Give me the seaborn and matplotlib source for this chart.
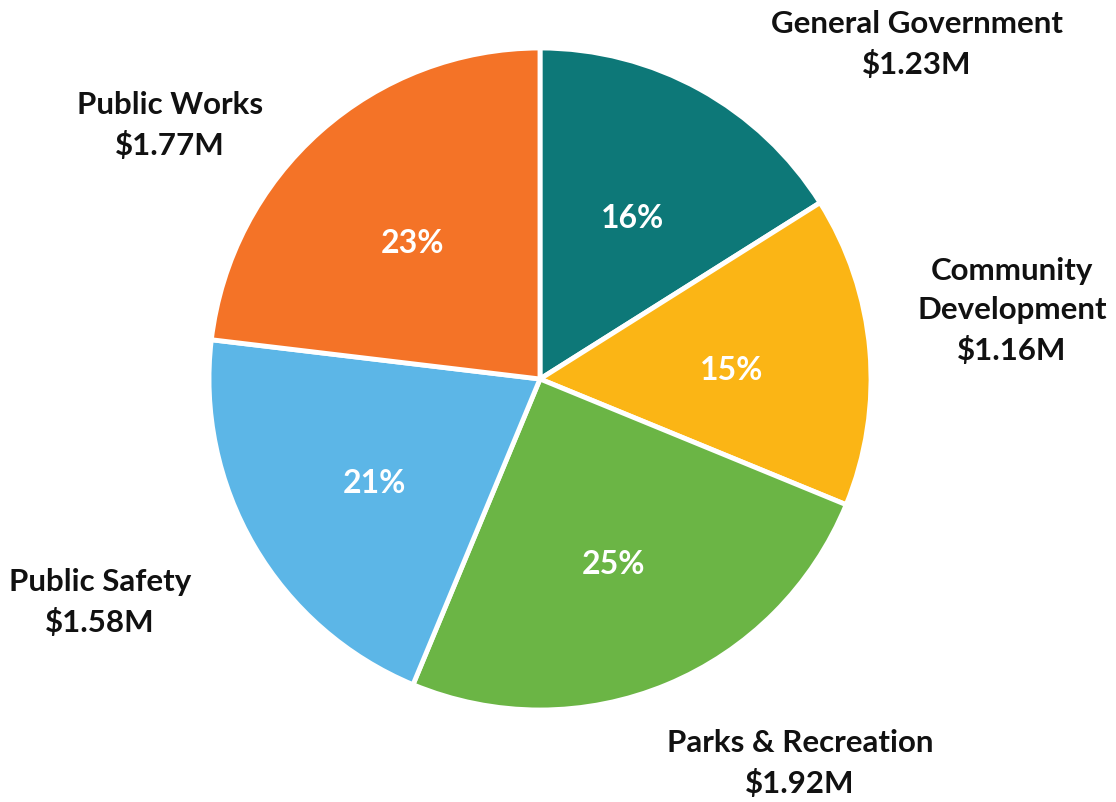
import matplotlib
matplotlib.use("Agg")
import matplotlib.pyplot as plt
import seaborn as sns
import numpy as np

categories = ["General Government", "Community\nDevelopment", "Parks & Recreation", "Public Safety", "Public Works"]
values = [1.23, 1.16, 1.92, 1.58, 1.77]
value_labels = ["$1.23M", "$1.16M", "$1.92M", "$1.58M", "$1.77M"]
colors = ["#0D7878", "#FBB515", "#6BB545", "#5CB6E7", "#F47327"]

sns.set_theme(style="white")
plt.rcParams['font.family'] = ['Lato', 'DejaVu Sans']

fig = plt.figure(figsize=(11.16, 8.03), dpi=100)
ax = fig.add_axes([0, 0, 1, 1])

total = sum(values)
wedges, texts = ax.pie(values, colors=colors, startangle=90, counterclock=False,
                       radius=1.0, center=(0, 0),
                       wedgeprops=dict(edgecolor="white", linewidth=3.5))

# percentage labels
ang0 = 90.0
for v, w in zip(values, wedges):
    span = v / total * 360
    mid = np.deg2rad(ang0 - span / 2)
    ang0 -= span
    ax.annotate(f"{v/total*100:.0f}%", xy=(0.58 * np.cos(mid), 0.58 * np.sin(mid)),
                xytext=(0, -5), textcoords="offset points",
                ha="center", va="center", color="white", fontsize=23, fontweight="bold")

# outside category labels
label_pos = [(1.139, 1.015), (1.426, 0.208), (0.785, -1.160), (-1.329, -0.671), (-1.118, 0.770)]
for cat, vl, (x, y) in zip(categories, value_labels, label_pos):
    ax.text(x, y, f"{cat}\n{vl}", ha="center", va="center", color="#111111",
            fontsize=22.5, fontweight="bold", linespacing=1.5)

ax.set_xlim(-540 / 331, (1116 - 540) / 331)
ax.set_ylim(-(803 - 380) / 331, 380 / 331)
ax.set_aspect("equal")
ax.axis("off")
fig.savefig("out.png", dpi=100, facecolor="white")
